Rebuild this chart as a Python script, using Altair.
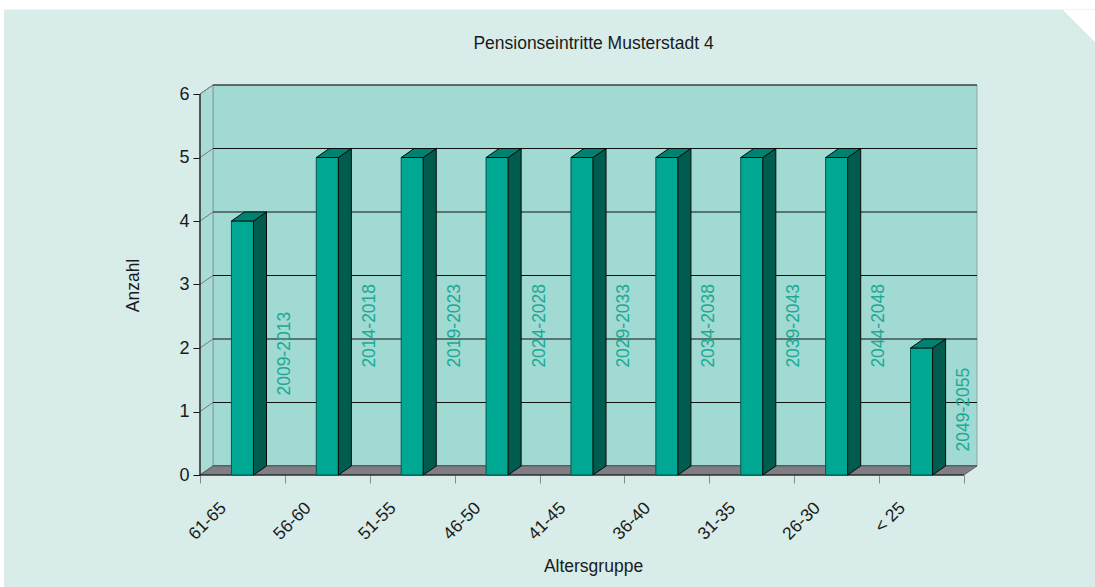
import altair as alt
import pandas as pd

# ---------------- data ----------------
categories = ["61-65", "56-60", "51-55", "46-50", "41-45", "36-40", "31-35", "26-30", "< 25"]
values = [4, 5, 5, 5, 5, 5, 5, 5, 2]
periods = ["2009-2013", "2014-2018", "2019-2023", "2024-2028", "2029-2033",
           "2034-2038", "2039-2043", "2044-2048", "2049-2055"]
y_ticks = [0, 1, 2, 3, 4, 5, 6]

# ---------------- geometry / style ----------------
W, H = 777, 390
N = len(categories)
YMAX = 6
DX = 13 / 84.9      # 3D depth, in category units
DY = 9 / 63.5       # 3D depth, in value units
HALF = 0.13         # half bar width (category units)

FONT = "Liberation Sans"
BG = "#d8ece9"
WALL = "#a1d9d3"
SIDEWALL = "#a8dcd5"
FLOOR = "#7e7e84"
FRONT = "#00a893"
SIDE = "#005c4e"
TOP = "#008272"
LABEL = "#1aab94"

xs = alt.Scale(domain=[0, N + DX], nice=False, zero=False)
ys = alt.Scale(domain=[0, YMAX + DY], nice=False, zero=False)

def X(f="x"):
    return alt.X(f + ":Q", scale=xs)

def Y(f="y"):
    return alt.Y(f + ":Q", scale=ys)

one = alt.Data(values=[{}])

# --- page decorations (white margin strips, cut corner) ---
white_top = alt.Chart(one).mark_rect(color="white").encode(
    x=alt.value(-205), x2=alt.value(900), y=alt.value(-90), y2=alt.value(-75.5))
white_left = alt.Chart(one).mark_rect(color="white").encode(
    x=alt.value(-205), x2=alt.value(-196), y=alt.value(-90), y2=alt.value(510))
corner = alt.Chart(one).mark_point(
    shape="M -1 -1 L 1 -1 L 1 1 Z", filled=True, color="white", opacity=1,
    size=1024, strokeWidth=0).encode(x=alt.value(879), y=alt.value(-59))

# --- back wall (carries the axes) ---
wall_df = pd.DataFrame({"x": [DX], "x2": [N + DX], "y": [DY], "y2": [YMAX + DY]})
xaxis_expr = "datum.value < %d ? [%s][datum.value] : ''" % (
    N, ",".join("'%s'" % c for c in categories))
wall = alt.Chart(wall_df).mark_rect(fill=WALL, stroke="#8fa5a2", strokeWidth=1).encode(
    x=alt.X("x:Q", scale=xs, axis=alt.Axis(
        values=list(range(N + 1)), labelExpr=xaxis_expr, labelAngle=315,
        labelAlign="right", labelBaseline="middle", labelOffset=23, labelPadding=22,
        tickSize=8, tickColor="#8a8a8a", domain=False, grid=False,
        labelFont=FONT, labelFontSize=17.5, labelColor="#1a1a1a",
        title="Altersgruppe", titleFont=FONT, titleFontSize=17.5, titleFontWeight="normal",
        titleColor="#1a1a1a", titleX=393, titleY=91, titleBaseline="middle",
        titleAlign="center", labelOverlap=False)),
    x2="x2:Q",
    y=alt.Y("y:Q", scale=ys, axis=alt.Axis(
        values=y_ticks, format="d", tickSize=7, tickColor="#111111", domain=False,
        grid=False, labelFont=FONT, labelFontSize=18, labelColor="#1a1a1a",
        labelPadding=4,
        title="Anzahl", titleFont=FONT, titleFontSize=17.5, titleFontWeight="normal",
        titleColor="#1a1a1a", titleX=-67, titleY=200, titleAngle=270,
        titleBaseline="middle", titleAlign="center")),
    y2="y2:Q",
)

# --- side wall ---
side_df = pd.DataFrame({"x": [0, DX], "y": [YMAX, YMAX + DY], "y2": [0, DY]})
sidewall = alt.Chart(side_df).mark_area(fill=SIDEWALL, stroke="#8a9a98", strokeWidth=1).encode(
    x=X(), y=Y(), y2="y2:Q")

# --- gridlines on back wall and diagonals on side wall ---
grid_df = pd.DataFrame({"x": [DX] * len(y_ticks), "x2": [N + DX] * len(y_ticks),
                        "y": [k + DY for k in y_ticks]})
grid = alt.Chart(grid_df).mark_rule(color="#111111", strokeWidth=1).encode(
    x=X(), x2="x2:Q", y=Y())
diag_df = pd.DataFrame({"x": [0] * len(y_ticks), "x2": [DX] * len(y_ticks),
                        "y": y_ticks, "y2": [k + DY for k in y_ticks]})
diag = alt.Chart(diag_df).mark_rule(color="#7a7a7a", strokeWidth=1).encode(
    x=X(), x2="x2:Q", y=Y(), y2="y2:Q")

# --- floor ---
floor_df = pd.DataFrame({"y": [0, DY], "x": [0, DX], "x2": [N, N + DX]})
floor = alt.Chart(floor_df).mark_area(orient="horizontal", fill=FLOOR,
                                      stroke="#555555", strokeWidth=0.8).encode(
    y=Y(), x=X(), x2="x2:Q")

# --- front axis lines ---
base_df = pd.DataFrame({"x": [0], "x2": [N], "y": [0], "y2": [YMAX]})
baseline = alt.Chart(base_df).mark_rule(color="#111111", strokeWidth=1.2).encode(
    x=X(), x2="x2:Q", y=Y())
yline = alt.Chart(base_df).mark_rule(color="#111111", strokeWidth=1.2).encode(
    x=X(), y=Y(), y2="y2:Q")

# --- bars (3D) ---
front_df = pd.DataFrame({
    "x": [i + 0.5 - HALF for i in range(N)],
    "x2": [i + 0.5 + HALF for i in range(N)],
    "y": [0] * N, "y2": values})
fronts = alt.Chart(front_df).mark_rect(fill=FRONT, stroke="#00594c", strokeWidth=1).encode(
    x=X(), x2="x2:Q", y=Y(), y2="y2:Q")

side_rows, top_rows = [], []
for i, v in enumerate(values):
    a = i + 0.5 + HALF
    b = i + 0.5 - HALF
    side_rows += [{"bar": i, "x": a, "y": v, "y2": 0},
                  {"bar": i, "x": a + DX, "y": v + DY, "y2": DY}]
    top_rows += [{"bar": i, "y": v, "x": b, "x2": a},
                 {"bar": i, "y": v + DY, "x": b + DX, "x2": a + DX}]
sides = alt.Chart(pd.DataFrame(side_rows)).mark_area(
    fill=SIDE, stroke="#0a0a0a", strokeWidth=1).encode(
    x=X(), y=Y(), y2="y2:Q", detail="bar:N")
tops = alt.Chart(pd.DataFrame(top_rows)).mark_area(
    orient="horizontal", fill=TOP, stroke="#0a0a0a", strokeWidth=1).encode(
    y=Y(), x=X(), x2="x2:Q", detail="bar:N")

# --- period labels ---
lab_df = pd.DataFrame({"x": [i + 1 for i in range(N)], "v": values, "period": periods})
labels = alt.Chart(lab_df).transform_calculate(
    y="datum.v * 0.44 + 0.15").mark_text(
    angle=270, font=FONT, fontSize=17.5, color=LABEL, align="center",
    baseline="middle").encode(x=X(), y=Y(), text="period:N")

chart = alt.layer(
    white_top, white_left, corner,
    wall, sidewall, grid, diag, floor, baseline, yline,
    fronts, sides, tops, labels
).properties(
    width=W, height=H,
    title=alt.TitleParams(text="Pensionseintritte Musterstadt 4", font=FONT, fontSize=17.5,
                          fontWeight="normal", color="#1a1a1a", anchor="middle",
                          baseline="alphabetic", offset=-71, dx=5),
    autosize=alt.AutoSizeParams(type="none"),
    padding={"left": 200, "top": 85, "right": 118, "bottom": 112},
).configure(background=BG).configure_view(stroke=None)

chart.save("out.html", embed_options={"renderer": "svg", "actions": False})
